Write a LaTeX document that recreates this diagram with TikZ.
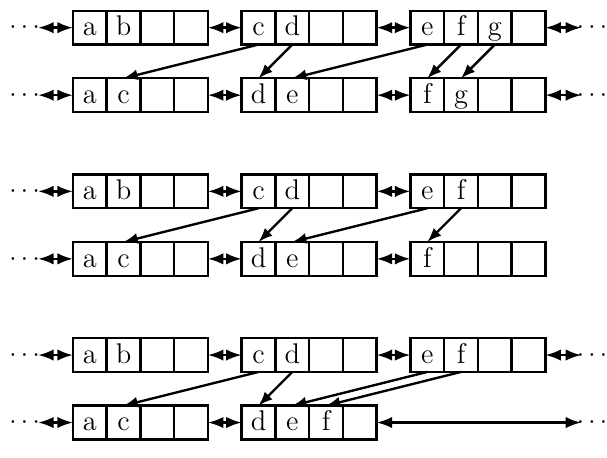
\documentclass[tikz,border=0pt]{standalone}
\usetikzlibrary{arrows.meta}
\tikzset{
  cell/.style={draw,line width=1pt,minimum width=.5cm,minimum height=.5cm,inner sep=0pt,outer sep=0pt,
    text height=8pt,text depth=1pt,font=\fontsize{12}{14}\selectfont},
  link/.style={line width=1pt,{Latex[length=2.3mm,width=1.7mm]}-{Latex[length=2.3mm,width=1.7mm]}},
  move/.style={line width=1pt,-{Latex[length=2.1mm,width=1.6mm]}},
  more/.style={anchor=base,yshift=-2.6pt,inner sep=0pt,font=\fontsize{10.5}{12}\selectfont}
}
% a block of four cells: name, left edge, height, labels
\newcommand{\cellblock}[4]{%
  \foreach \lbl [count=\i] in {#4}
    \node[cell] (#1-\i) at ({#2+\i-.5},#3) {\lbl};
}

\begin{document}
\begin{tikzpicture}[x=.5cm,y=.5cm]
  \useasboundingbox (0,0) rectangle (17.985,-13.57);

  % first case
  \cellblock{1u1}{2.16}{-.82}{a,b,{},{}}
  \cellblock{1u2}{7.16}{-.82}{c,d,{},{}}
  \cellblock{1u3}{12.16}{-.82}{e,f,g,{}}
  \cellblock{1l1}{2.16}{-2.82}{a,c,{},{}}
  \cellblock{1l2}{7.16}{-2.82}{d,e,{},{}}
  \cellblock{1l3}{12.16}{-2.82}{f,g,{},{}}
  \foreach \r/\y in {1u/-.82,1l/-2.82} {
    \node[more] (\r-ld) at (.73,\y) {$\cdots$};
    \coordinate (\r-lend) at (1.13,\y);
    \node[more] (\r-rd) at (17.54,\y) {$\cdots$};
    \coordinate (\r-rend) at (17.22,\y);
    \draw[link] (\r-lend) -- (\r1-1.west);
    \draw[link] (\r1-4.east) -- (\r2-1.west);
    \draw[link] (\r2-4.east) -- (\r3-1.west);
    \draw[link] (\r3-4.east) -- (\r-rend);
  }
  \draw[move] (1u2-1.south) -- (1l1-2.north);
  \draw[move] (1u2-2.south) -- (1l2-1.north);
  \draw[move] (1u3-1.south) -- (1l2-2.north);
  \draw[move] (1u3-2.south) -- (1l3-1.north);
  \draw[move] (1u3-3.south) -- (1l3-2.north);

  % second case
  \begin{scope}[yshift=-2.425cm]
    \cellblock{2u1}{2.16}{-.82}{a,b,{},{}}
    \cellblock{2u2}{7.16}{-.82}{c,d,{},{}}
    \cellblock{2u3}{12.16}{-.82}{e,f,{},{}}
    \cellblock{2l1}{2.16}{-2.82}{a,c,{},{}}
    \cellblock{2l2}{7.16}{-2.82}{d,e,{},{}}
    \cellblock{2l3}{12.16}{-2.82}{f,{},{},{}}
    \foreach \r/\y in {2u/-.82,2l/-2.82} {
      \node[more] (\r-ld) at (.73,\y) {$\cdots$};
      \coordinate (\r-lend) at (1.13,\y);
      \draw[link] (\r-lend) -- (\r1-1.west);
      \draw[link] (\r1-4.east) -- (\r2-1.west);
      \draw[link] (\r2-4.east) -- (\r3-1.west);
    }
    \draw[move] (2u2-1.south) -- (2l1-2.north);
    \draw[move] (2u2-2.south) -- (2l2-1.north);
    \draw[move] (2u3-1.south) -- (2l2-2.north);
    \draw[move] (2u3-2.south) -- (2l3-1.north);
  \end{scope}

  % third case
  \begin{scope}[yshift=-4.85cm]
    \cellblock{3u1}{2.16}{-.82}{a,b,{},{}}
    \cellblock{3u2}{7.16}{-.82}{c,d,{},{}}
    \cellblock{3u3}{12.16}{-.82}{e,f,{},{}}
    \cellblock{3l1}{2.16}{-2.82}{a,c,{},{}}
    \cellblock{3l2}{7.16}{-2.82}{d,e,f,{}}
    \foreach \r/\y in {3u/-.82,3l/-2.82} {
      \node[more] (\r-ld) at (.73,\y) {$\cdots$};
      \coordinate (\r-lend) at (1.13,\y);
      \node[more] (\r-rd) at (17.54,\y) {$\cdots$};
      \coordinate (\r-rend) at (17.22,\y);
      \draw[link] (\r-lend) -- (\r1-1.west);
      \draw[link] (\r1-4.east) -- (\r2-1.west);
    }
    \draw[link] (3u2-4.east) -- (3u3-1.west);
    \draw[link] (3u3-4.east) -- (3u-rend);
    \draw[link] (3l2-4.east) -- (3l-rend);
    \draw[move] (3u2-1.south) -- (3l1-2.north);
    \draw[move] (3u2-2.south) -- (3l2-1.north);
    \draw[move] (3u3-1.south) -- (3l2-2.north);
    \draw[move] (3u3-2.south) -- (3l2-3.north);
  \end{scope}
\end{tikzpicture}
\end{document}
